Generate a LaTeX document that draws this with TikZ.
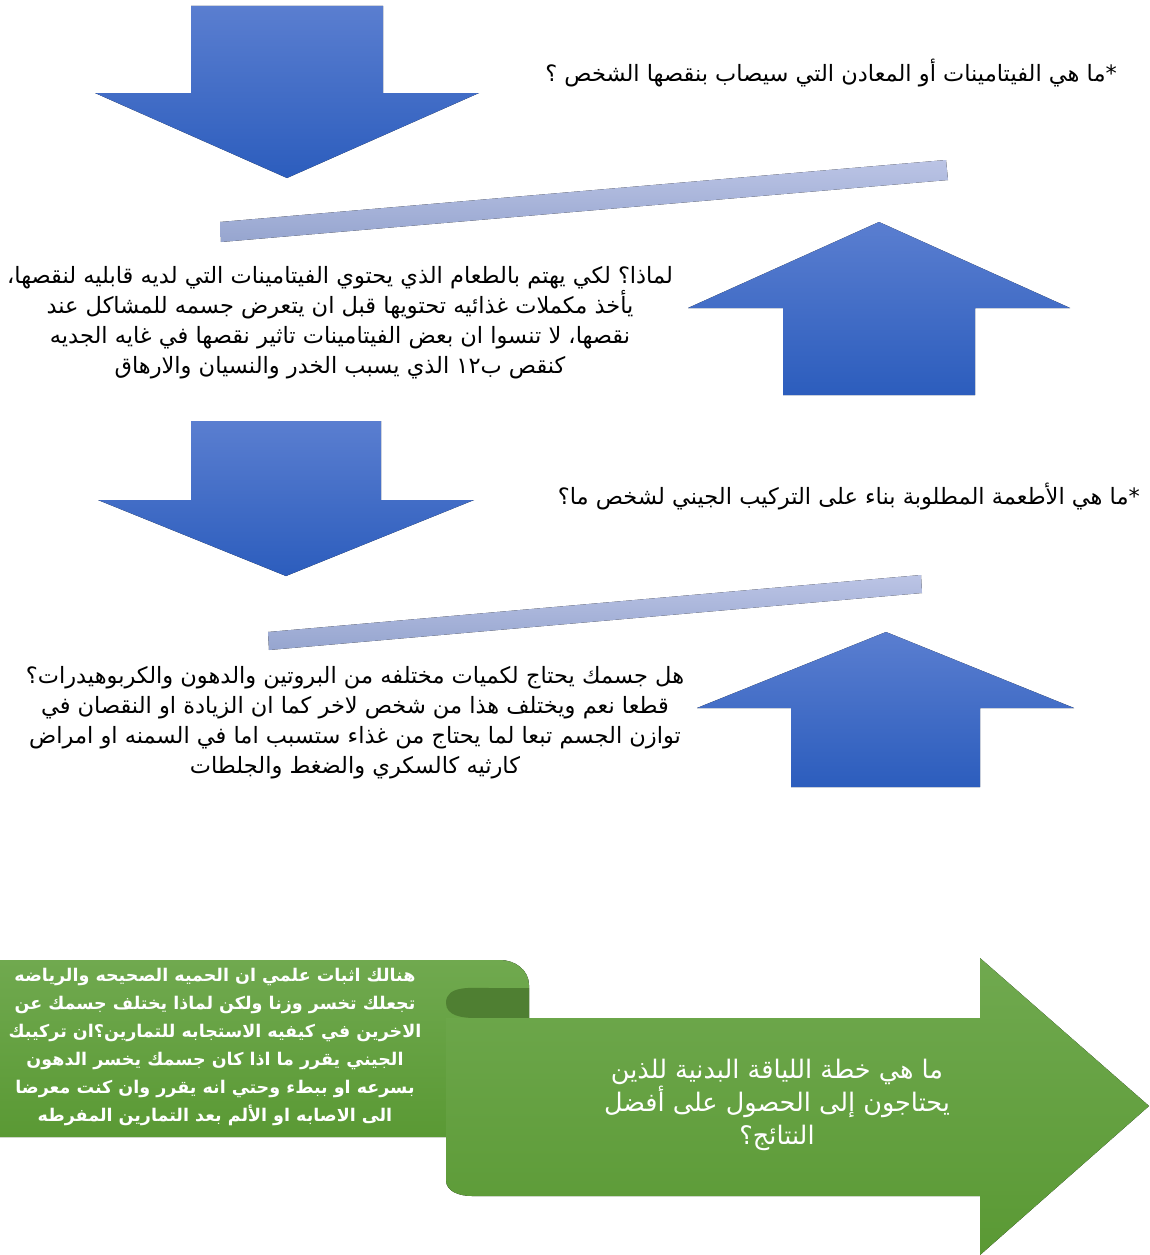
\documentclass[tikz,border=0pt]{standalone}
\usepackage{fontspec}
\usepackage{xcolor}
\newfontfamily\arabicfont[Script=Arabic]{DejaVu Sans}
\TeXXeTstate=1
\usetikzlibrary{positioning}

\definecolor{arrowtop}{HTML}{5A7ED0}
\definecolor{arrowbot}{HTML}{2C5DBD}
\definecolor{bartop}{HTML}{BBC4E5}
\definecolor{barbot}{HTML}{96A5CF}
\definecolor{greentop}{HTML}{70A94F}
\definecolor{greenbot}{HTML}{5A9934}
\definecolor{greencurl}{HTML}{4F7F32}

\tikzset{
  bluearrow/.style={top color=arrowtop, bottom color=arrowbot, draw=none},
  tiltbar/.style={top color=bartop, bottom color=barbot, draw=none},
  scroll/.style={top color=greentop, bottom color=greenbot, draw=none},
  qtext/.style={font=\arabicfont\fontsize{22.5}{30}\selectfont, align=center, inner sep=0pt},
  notetext/.style={font=\arabicfont\bfseries\fontsize{17.5}{28}\selectfont, text=white, align=center, inner sep=0pt},
  bigtext/.style={font=\arabicfont\fontsize{25.5}{33}\selectfont, text=white, align=center, inner sep=0pt}
}

\begin{document}
\begin{tikzpicture}[x=1pt,y=-1pt]
    \useasboundingbox (0,0) rectangle (1149,1255);

    % Down arrows
    \fill[bluearrow] (191,6) -- (383,6) -- (383,93) -- (479,93) -- (287,178) -- (95,93) -- (191,93) -- cycle;
    \fill[bluearrow] (191,421) -- (381,421) -- (381,500) -- (474,500) -- (286,576) -- (98,500) -- (191,500) -- cycle;

    % Up arrows
    \fill[bluearrow] (783,395) -- (975,395) -- (975,308) -- (1070,308) -- (879,222) -- (688,308) -- (783,308) -- cycle;
    \fill[bluearrow] (791,787) -- (980,787) -- (980,708) -- (1074,708) -- (886,632) -- (697,708) -- (791,708) -- cycle;

    % Tilted bars
    \fill[tiltbar] (220,222) -- (946,160) -- (948,180) -- (221,242) -- cycle;
    \fill[tiltbar] (268,632) -- (921,575) -- (922,593) -- (269,650) -- cycle;

    % Questions and answers
    \node[qtext, anchor=east] (vitq) at (1117,73)
        {\beginR *ما هي الفيتامينات أو المعادن التي سيصاب بنقصها الشخص ؟\endR};
    \node[qtext] (vita) at (340,323)
        {\beginR لماذا؟ لكي يهتم بالطعام الذي يحتوي الفيتامينات التي لديه قابليه لنقصها،\endR\\
         \beginR يأخذ مكملات غذائيه تحتويها قبل ان يتعرض جسمه للمشاكل عند\endR\\
         \beginR نقصها، لا تنسوا ان بعض الفيتامينات تاثير نقصها في غايه الجديه\endR\\
         \beginR كنقص ب١٢ الذي يسبب الخدر والنسيان والارهاق\endR};
    \node[qtext, anchor=east] (foodq) at (1140,497)
        {\beginR *ما هي الأطعمة المطلوبة بناء على التركيب الجيني لشخص ما؟\endR};
    \node[qtext] (fooda) at (355,723)
        {\beginR هل جسمك يحتاج لكميات مختلفه من البروتين والدهون والكربوهيدرات؟\endR\\
         \beginR قطعا نعم ويختلف هذا من شخص لاخر كما ان الزيادة او النقصان في\endR\\
         \beginR توازن الجسم تبعا لما يحتاج من غذاء ستسبب اما في السمنه او امراض\endR\\
         \beginR كارثيه كالسكري والضغط والجلطات\endR};

    % Green scroll
    \fill[scroll] (0,960) -- (500,960) to[out=0,in=90] (529,985) -- (529,1018) -- (446,1018) -- (446,1137) -- (0,1137) -- cycle;
    \fill[greencurl] (529,988) -- (490,988) to[out=180,in=90] (446,1003) to[out=-90,in=180] (475,1018) -- (529,1018) -- cycle;
    \fill[scroll] (446,1018) -- (980,1018) -- (980,958) -- (1149,1106) -- (980,1255) -- (980,1196) -- (472,1196)
        to[out=180,in=-90] (446,1180) -- cycle;

    % Scroll texts
    \node[notetext] (gene) at (215,1047)
        {\beginR هنالك اثبات علمي ان الحميه الصحيحه والرياضه\endR\\
         \beginR تجعلك تخسر وزنا ولكن لماذا يختلف جسمك عن\endR\\
         \beginR الاخرين في كيفيه الاستجابه للتمارين؟ان تركيبك\endR\\
         \beginR الجيني يقرر ما اذا كان جسمك يخسر الدهون\endR\\
         \beginR بسرعه او ببطء وحتي انه يقرر وان كنت معرضا\endR\\
         \beginR الى الاصابه او الألم بعد التمارين المفرطه\endR};
    \node[bigtext] (plan) at (777,1105)
        {\beginR ما هي خطة اللياقة البدنية للذين\endR\\
         \beginR يحتاجون إلى الحصول على أفضل\endR\\
         \beginR النتائج؟\endR};
\end{tikzpicture}
\end{document}
